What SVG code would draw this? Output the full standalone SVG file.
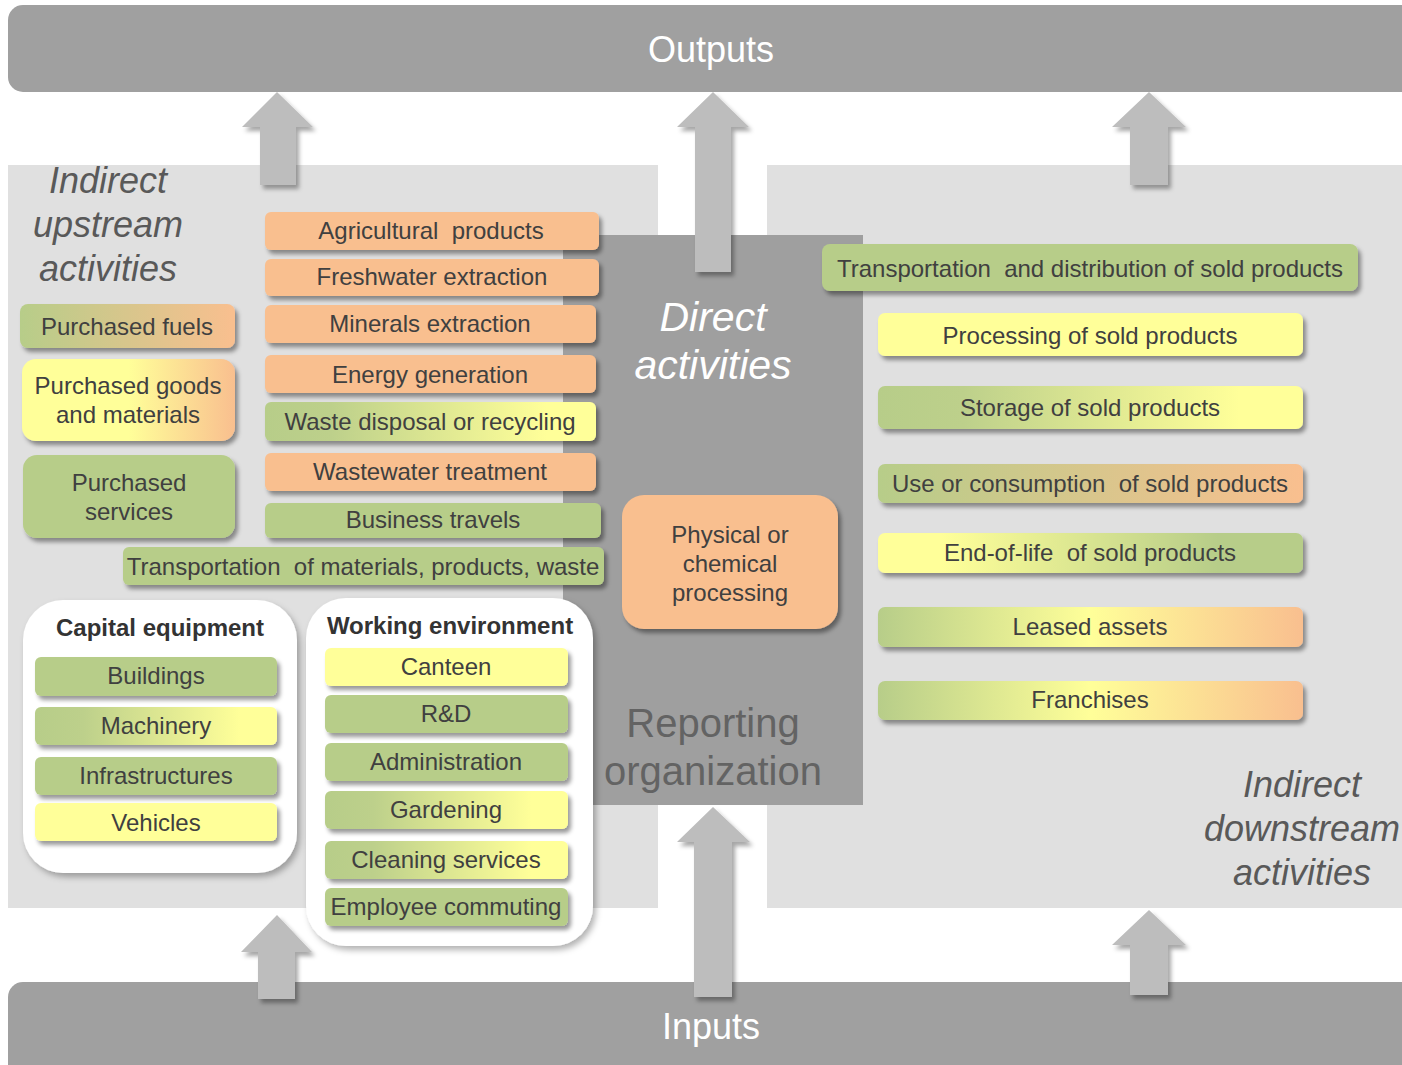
<svg xmlns="http://www.w3.org/2000/svg" width="1402" height="1065" viewBox="0 0 1402 1065">
<style>
text{font-family:"Liberation Sans",Arial,sans-serif;text-anchor:middle}
.bt{font-size:24px;fill:#404040}
.hd{font-size:24px;font-weight:bold;fill:#333}
.big{font-size:36px;fill:#fff}
.ind{font-size:36px;font-style:italic;fill:#595959}
.dir{font-size:41px;font-style:italic;fill:#fff}
.rep{font-size:40px;fill:#636363}
.g{fill:#b7cd89}
.o{fill:#f9bf8f}
.y{fill:#ffff99}
.sh{filter:url(#ds)}
.arr{fill:#bdbdbd;filter:url(#as)}
</style>
<defs>
<filter id="ds" x="-10%" y="-20%" width="125%" height="160%"><feDropShadow dx="3" dy="4" stdDeviation="2" flood-color="#000" flood-opacity="0.4"/></filter>
<filter id="cs" x="-10%" y="-10%" width="125%" height="125%"><feDropShadow dx="3" dy="4" stdDeviation="3" flood-color="#000" flood-opacity="0.3"/></filter>
<filter id="as" x="-30%" y="-10%" width="170%" height="130%"><feDropShadow dx="3" dy="4" stdDeviation="2" flood-color="#000" flood-opacity="0.35"/></filter>
<linearGradient id="gGO"><stop offset="0" stop-color="#b7cd89"/><stop offset="1" stop-color="#f9bf8f"/></linearGradient>
<linearGradient id="gYO"><stop offset="0" stop-color="#ffff99"/><stop offset="0.5" stop-color="#ffff99"/><stop offset="1" stop-color="#f9bf8f"/></linearGradient>
<linearGradient id="gGY"><stop offset="0" stop-color="#b7cd89"/><stop offset="0.2" stop-color="#bdd08b"/><stop offset="0.85" stop-color="#ffff99"/><stop offset="1" stop-color="#ffff99"/></linearGradient>
<linearGradient id="gYG"><stop offset="0" stop-color="#ffff99"/><stop offset="0.15" stop-color="#ffff99"/><stop offset="0.8" stop-color="#b7cd89"/><stop offset="1" stop-color="#b7cd89"/></linearGradient>
<linearGradient id="gGYO"><stop offset="0" stop-color="#b7cd89"/><stop offset="0.5" stop-color="#ffff99"/><stop offset="1" stop-color="#f9bf8f"/></linearGradient>
</defs>

<g id="background">
<rect x="8" y="165" width="650" height="743" fill="#e0e0e0"/>
<rect x="767" y="165" width="650" height="743" fill="#e0e0e0"/>
<rect x="563" y="235" width="300" height="570" fill="#9f9f9f"/>
<rect x="8" y="5" width="1420" height="87" rx="15" fill="#a0a0a0"/>
<rect x="8" y="982" width="1420" height="100" rx="15" fill="#a0a0a0"/>
</g>

<g id="connectors">
<polygon class="arr" points="277,92 313,127 296,127 296,185 260,185 260,127 242,127"/>
<polygon class="arr" points="713,92 749,127 731,127 731,272 695,272 695,127 677,127"/>
<polygon class="arr" points="1149,92 1186,127 1168,127 1168,185 1130,185 1130,127 1112,127"/>
<polygon class="arr" points="277,915 312,952 295,952 295,999 258,999 258,952 241,952"/>
<polygon class="arr" points="713,807 750,842 732,842 732,997 694,997 694,842 677,842"/>
<polygon class="arr" points="1149,910 1186,945 1168,945 1168,995 1130,995 1130,945 1112,945"/>
</g>

<g id="outputs"><text class="big" x="711" y="62">Outputs</text></g>
<g id="inputs"><text class="big" x="711" y="1039">Inputs</text></g>

<g id="upstream-label">
<text class="ind" x="108" y="193">Indirect</text>
<text class="ind" x="108" y="237">upstream</text>
<text class="ind" x="108" y="281">activities</text>
</g>
<g id="direct-label">
<text class="dir" x="713" y="331">Direct</text>
<text class="dir" x="713" y="379">activities</text>
</g>
<g id="reporting-label">
<text class="rep" x="713" y="737">Reporting</text>
<text class="rep" x="713" y="785">organization</text>
</g>
<g id="downstream-label">
<text class="ind" x="1302" y="797">Indirect</text>
<text class="ind" x="1302" y="841">downstream</text>
<text class="ind" x="1302" y="885">activities</text>
</g>

<g id="purchased-fuels"><rect class="sh" x="20" y="304" width="215" height="44" rx="8" fill="url(#gGO)"/><text class="bt" x="127" y="335">Purchased fuels</text></g>
<g id="purchased-goods"><rect class="sh" x="22" y="359" width="213" height="82" rx="14" fill="url(#gYO)"/><text class="bt" x="128" y="394">Purchased goods</text><text class="bt" x="128" y="423">and materials</text></g>
<g id="purchased-services"><rect class="sh g" x="23" y="455" width="212" height="83" rx="14"/><text class="bt" x="129" y="491">Purchased</text><text class="bt" x="129" y="520">services</text></g>

<g id="agricultural"><rect class="sh o" x="265" y="212" width="334" height="38" rx="6"/><text class="bt" x="431" y="239" xml:space="preserve">Agricultural  products</text></g>
<g id="freshwater"><rect class="sh o" x="265" y="259" width="334" height="37" rx="6"/><text class="bt" x="432" y="285">Freshwater extraction</text></g>
<g id="minerals"><rect class="sh o" x="265" y="305" width="331" height="38" rx="6"/><text class="bt" x="430" y="332">Minerals extraction</text></g>
<g id="energy"><rect class="sh o" x="265" y="355" width="331" height="38" rx="6"/><text class="bt" x="430" y="383">Energy generation</text></g>
<g id="waste"><rect class="sh" x="265" y="402" width="331" height="39" rx="6" fill="url(#gGY)"/><text class="bt" x="430" y="430">Waste disposal or recycling</text></g>
<g id="wastewater"><rect class="sh o" x="265" y="453" width="331" height="38" rx="6"/><text class="bt" x="430" y="480">Wastewater treatment</text></g>
<g id="business-travels"><rect class="sh g" x="265" y="503" width="336" height="35" rx="6"/><text class="bt" x="433" y="528">Business travels</text></g>
<g id="transportation-up"><rect class="sh g" x="123" y="547" width="481" height="38" rx="6"/><text class="bt" x="363" y="575" xml:space="preserve">Transportation  of materials, products, waste</text></g>

<g id="capital-equipment">
<rect x="23" y="600" width="274" height="273" rx="40" fill="#fff" filter="url(#cs)"/>
<text class="hd" x="160" y="636">Capital equipment</text>
<g id="buildings"><rect class="sh g" x="35" y="657" width="242" height="39" rx="6"/><text class="bt" x="156" y="684">Buildings</text></g>
<g id="machinery"><rect class="sh" x="35" y="707" width="242" height="38" rx="6" fill="url(#gGY)"/><text class="bt" x="156" y="734">Machinery</text></g>
<g id="infrastructures"><rect class="sh g" x="35" y="757" width="242" height="38" rx="6"/><text class="bt" x="156" y="784">Infrastructures</text></g>
<g id="vehicles"><rect class="sh y" x="35" y="803" width="242" height="38" rx="6"/><text class="bt" x="156" y="831">Vehicles</text></g>
</g>

<g id="working-environment">
<rect x="306" y="598" width="287" height="348" rx="40" fill="#fff" filter="url(#cs)"/>
<text class="hd" x="450" y="634">Working environment</text>
<g id="canteen"><rect class="sh y" x="325" y="648" width="243" height="38" rx="6"/><text class="bt" x="446" y="675">Canteen</text></g>
<g id="rnd"><rect class="sh g" x="325" y="695" width="243" height="38" rx="6"/><text class="bt" x="446" y="722">R&amp;D</text></g>
<g id="administration"><rect class="sh g" x="325" y="743" width="243" height="38" rx="6"/><text class="bt" x="446" y="770">Administration</text></g>
<g id="gardening"><rect class="sh" x="325" y="791" width="243" height="38" rx="6" fill="url(#gGY)"/><text class="bt" x="446" y="818">Gardening</text></g>
<g id="cleaning"><rect class="sh" x="325" y="841" width="243" height="38" rx="6" fill="url(#gGY)"/><text class="bt" x="446" y="868">Cleaning services</text></g>
<g id="commuting"><rect class="sh g" x="325" y="888" width="243" height="38" rx="6"/><text class="bt" x="446" y="915">Employee commuting</text></g>
</g>

<g id="physical-processing"><rect class="sh o" x="622" y="495" width="216" height="134" rx="22"/><text class="bt" x="730" y="543">Physical or</text><text class="bt" x="730" y="572">chemical</text><text class="bt" x="730" y="601">processing</text></g>

<g id="transport-down"><rect class="sh g" x="822" y="244" width="536" height="47" rx="8"/><text class="bt" x="1090" y="277" xml:space="preserve">Transportation  and distribution of sold products</text></g>
<g id="processing-sold"><rect class="sh y" x="878" y="313" width="425" height="43" rx="7"/><text class="bt" x="1090" y="344">Processing of sold products</text></g>
<g id="storage-sold"><rect class="sh" x="878" y="386" width="425" height="43" rx="7" fill="url(#gGY)"/><text class="bt" x="1090" y="416">Storage of sold products</text></g>
<g id="use-sold"><rect class="sh" x="878" y="464" width="425" height="39" rx="7" fill="url(#gGO)"/><text class="bt" x="1090" y="492" xml:space="preserve">Use or consumption  of sold products</text></g>
<g id="eol-sold"><rect class="sh" x="878" y="533" width="425" height="40" rx="7" fill="url(#gYG)"/><text class="bt" x="1090" y="561" xml:space="preserve">End-of-life  of sold products</text></g>
<g id="leased"><rect class="sh" x="878" y="607" width="425" height="40" rx="7" fill="url(#gGYO)"/><text class="bt" x="1090" y="635">Leased assets</text></g>
<g id="franchises"><rect class="sh" x="878" y="681" width="425" height="39" rx="7" fill="url(#gGYO)"/><text class="bt" x="1090" y="708">Franchises</text></g>
</svg>
